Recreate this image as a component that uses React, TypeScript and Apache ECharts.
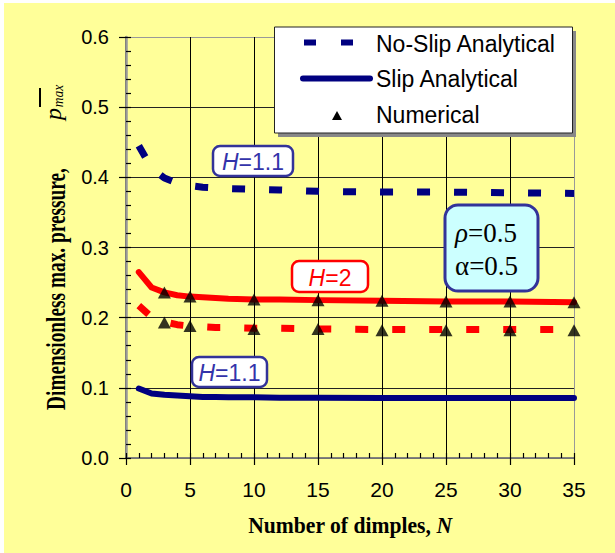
import React, { useEffect, useRef } from "react";
import * as echarts from "echarts";

// ---- data ----
const N_CURVE = [1, 2, 3, 4, 5, 6, 7, 8, 10, 12, 15, 20, 25, 30, 35];
const noSlipH11 = [0.445, 0.413, 0.399, 0.392, 0.388, 0.386, 0.385, 0.384, 0.383, 0.382, 0.38, 0.379, 0.379, 0.378, 0.377];
const slipH11 = [0.099, 0.092, 0.09, 0.089, 0.088, 0.087, 0.087, 0.0865, 0.0865, 0.086, 0.086, 0.0855, 0.0855, 0.0855, 0.0855];
const noSlipH2 = [0.217, 0.201, 0.194, 0.19, 0.188, 0.187, 0.186, 0.186, 0.185, 0.185, 0.184, 0.183, 0.183, 0.183, 0.183];
const slipH2 = [0.265, 0.243, 0.236, 0.232, 0.23, 0.229, 0.228, 0.227, 0.226, 0.226, 0.225, 0.224, 0.223, 0.223, 0.222];

const N_NUM = [3, 5, 10, 15, 20, 25, 30, 35];
const numSlipH2 = [0.236, 0.23, 0.226, 0.225, 0.224, 0.223, 0.223, 0.222];
const numNoSlipH2 = [0.193, 0.188, 0.184, 0.184, 0.182, 0.182, 0.182, 0.182];

const X_TICKS = [0, 5, 10, 15, 20, 25, 30, 35];
const Y_TICKS = [0, 0.1, 0.2, 0.3, 0.4, 0.5, 0.6];

const LEGEND_NAMES = ["No-Slip Analytical", "Slip Analytical", "Numerical"];

const pairs = (xs: number[], ys: number[]) => xs.map((x, i) => [x, ys[i]]);

const BLUE = "#000080";
const RED = "#FF0000";
const BOXBLUE = "#333399";
const SANS = "'Liberation Sans', Arial, sans-serif";
const SERIF = "'Liberation Serif', 'Times New Roman', serif";

const withZ = (els: any[], z: number) => els.map((e) => ({ ...e, z }));

export default function App() {
  const ref = useRef<HTMLDivElement>(null);
  useEffect(() => {
    if (!ref.current) return;
    const chart = echarts.init(ref.current, undefined, { renderer: "svg" });

    const xMin = X_TICKS[0];
    const xMax = X_TICKS[X_TICKS.length - 1];
    const yMin = Y_TICKS[0];
    const yMax = Y_TICKS[Y_TICKS.length - 1];

    const dashed = { type: [13, 24] as any, width: 7, cap: "butt" as const };
    const solid = { type: "solid" as const, width: 6, cap: "round" as const, join: "round" as const };

    const hLabel = (x: number, y: number, w: number, h: number, color: string, val: string) =>
      withZ(
        [
          { type: "rect", shape: { x, y, width: w, height: h, r: 7 }, style: { fill: "#fff", stroke: color, lineWidth: 2.5 } },
          {
            type: "text",
            x: x + w / 2,
            y: y + h / 2 + 1,
            style: {
              text: "{i|H}{n|=" + val + "}",
              align: "center",
              verticalAlign: "middle",
              rich: {
                i: { fontStyle: "italic", fontSize: 23, fontFamily: SANS, fill: color === RED ? RED : "#3333AA" },
                n: { fontSize: 23, fontFamily: SANS, fill: color === RED ? RED : "#3333AA" },
              },
            },
          },
        ],
        100
      );

    const legendEls = withZ(
      [
        { type: "rect", shape: { x: 278, y: 31, width: 298, height: 106 }, style: { fill: "#888" } },
        { type: "rect", shape: { x: 274.5, y: 27, width: 298, height: 106 }, style: { fill: "#fff", stroke: "#222", lineWidth: 1 } },
        { type: "line", shape: { x1: 304, y1: 42.5, x2: 353, y2: 42.5 }, style: { stroke: BLUE, lineWidth: 6, lineDash: [12, 25] } },
        { type: "line", shape: { x1: 303, y1: 78.5, x2: 370, y2: 78.5 }, style: { stroke: BLUE, lineWidth: 6, lineCap: "round" } },
        { type: "polygon", shape: { points: [[337, 111], [332, 120], [342, 120]] }, style: { fill: "#000" } },
        { type: "text", x: 376, y: 44, style: { text: LEGEND_NAMES[0], font: "23px " + SANS, fill: "#000", verticalAlign: "middle" } },
        { type: "text", x: 376, y: 79, style: { text: LEGEND_NAMES[1], font: "23px " + SANS, fill: "#000", verticalAlign: "middle" } },
        { type: "text", x: 376, y: 114.5, style: { text: LEGEND_NAMES[2], font: "23px " + SANS, fill: "#000", verticalAlign: "middle" } },
      ],
      110
    );

    const paramEls = withZ(
      [
        { type: "rect", shape: { x: 445, y: 205, width: 93, height: 86, r: 13 }, style: { fill: "#CCFFFF", stroke: BOXBLUE, lineWidth: 3 } },
        {
          type: "text",
          x: 455,
          y: 233,
          style: {
            text: "{i|ρ}{n|=0.5}",
            verticalAlign: "middle",
            rich: {
              i: { fontStyle: "italic", fontSize: 27, fontFamily: SERIF, fill: "#000" },
              n: { fontSize: 27, fontFamily: SERIF, fill: "#000" },
            },
          },
        },
        {
          type: "text",
          x: 455,
          y: 266,
          style: { text: "α=0.5", font: "27px " + SERIF, fill: "#000", verticalAlign: "middle" },
        },
      ],
      100
    );

    const option: any = {
      animation: false,
      backgroundColor: "#FFFF99",
      grid: { left: 126, right: 41, top: 37, bottom: 95, containLabel: false },
      xAxis: [
        {
          type: "value",
          min: xMin,
          max: xMax,
          interval: 5,
          axisLine: { show: true, lineStyle: { color: "#000", width: 1.5 } },
          axisTick: { show: true, inside: false, length: 7, lineStyle: { color: "#000", width: 1.2 } },
          axisLabel: { fontSize: 21, fontFamily: SANS, color: "#000", margin: 21 },
          splitLine: {
            show: true,
            lineStyle: { color: ["#000", "#000", "#000", "#000", "#000", "#000", "#000", "#999"], width: 1 },
          },
        },
        {
          type: "value",
          min: xMin,
          max: xMax,
          interval: 1,
          position: "bottom",
          axisLine: { show: false },
          axisTick: { show: true, inside: true, length: 5, lineStyle: { color: "#000", width: 1.2 } },
          axisLabel: { show: false },
          splitLine: { show: false },
        },
        {
          type: "value",
          min: xMin,
          max: xMax,
          position: "top",
          axisLine: { show: true, lineStyle: { color: "#999", width: 1.5 } },
          axisTick: { show: false },
          axisLabel: { show: false },
          splitLine: { show: false },
        },
      ],
      yAxis: [
        {
          type: "value",
          min: yMin,
          max: yMax,
          interval: 0.1,
          axisLine: { show: true, lineStyle: { color: "#000", width: 1.5 } },
          axisTick: { show: true, inside: false, length: 7, lineStyle: { color: "#000", width: 1.2 } },
          axisLabel: {
            fontSize: 20,
            fontFamily: SANS,
            color: "#000",
            margin: 17,
            formatter: (v: number) => v.toFixed(1),
          },
          splitLine: {
            show: true,
            lineStyle: { color: ["#000", "#222", "#222", "#222", "#222", "#222", "#999"], width: 1 },
          },
        },
        {
          type: "value",
          min: yMin,
          max: yMax,
          interval: 0.02,
          position: "left",
          axisLine: { show: false },
          axisTick: { show: true, inside: true, length: 5, lineStyle: { color: "#000", width: 1.2 } },
          axisLabel: { show: false },
          splitLine: { show: false },
        },
        {
          type: "value",
          min: yMin,
          max: yMax,
          position: "right",
          axisLine: { show: true, lineStyle: { color: "#999", width: 2.5 } },
          axisTick: { show: false },
          axisLabel: { show: false },
          splitLine: { show: false },
        },
      ],
      series: [
        {
          name: "No-Slip Analytical (H=1.1)",
          type: "line",
          data: pairs(N_CURVE, noSlipH11),
          symbol: "none",
          lineStyle: { color: BLUE, ...dashed },
          z: 3,
        },
        {
          name: "Slip Analytical (H=1.1)",
          type: "line",
          data: pairs(N_CURVE, slipH11),
          symbol: "none",
          lineStyle: { color: BLUE, ...solid },
          z: 3,
        },
        {
          name: "No-Slip Analytical (H=2)",
          type: "line",
          data: pairs(N_CURVE, noSlipH2),
          symbol: "none",
          lineStyle: { color: RED, ...dashed },
          z: 3,
        },
        {
          name: "Slip Analytical (H=2)",
          type: "line",
          data: pairs(N_CURVE, slipH2),
          symbol: "none",
          lineStyle: { color: RED, ...solid },
          z: 3,
        },
        {
          name: "Numerical (slip, H=2)",
          type: "scatter",
          data: pairs(N_NUM, numSlipH2),
          symbol: "triangle",
          symbolSize: [13, 12],
          itemStyle: { color: "#000" },
          z: 5,
        },
        {
          name: "Numerical (no-slip, H=2)",
          type: "scatter",
          data: pairs(N_NUM, numNoSlipH2),
          symbol: "triangle",
          symbolSize: [13, 12],
          itemStyle: { color: "#000" },
          z: 5,
        },
      ],
      graphic: [
        // white page margins at left/top
        { type: "rect", shape: { x: 0, y: 0, width: 4, height: 553 }, style: { fill: "#fff" }, z: 100 },
        { type: "rect", shape: { x: 0, y: 0, width: 615, height: 3 }, style: { fill: "#fff" }, z: 100 },
        ...legendEls,
        ...hLabel(213, 146, 80, 30, BOXBLUE, "1.1"),
        ...hLabel(292, 261, 76, 31, RED, "2"),
        ...hLabel(192, 357, 75, 30, BOXBLUE, "1.1"),
        ...paramEls,
        // axis titles
        {
          type: "text",
          z: 100,
          x: 350,
          y: 525,
          scaleX: 0.9,
          style: {
            text: "{b|Number of dimples, }{i|N}",
            align: "center",
            verticalAlign: "middle",
            rich: {
              b: { fontWeight: "bold", fontSize: 24, fontFamily: SERIF, fill: "#000" },
              i: { fontWeight: "bold", fontStyle: "italic", fontSize: 24, fontFamily: SERIF, fill: "#000" },
            },
          },
        },
        {
          type: "text",
          z: 100,
          x: 56,
          y: 289,
          rotation: Math.PI / 2,
          scaleX: 0.69,
          style: { text: "Dimensionless max. pressure,", font: "bold 28px " + SERIF, fill: "#000", align: "center", verticalAlign: "middle" },
        },
        {
          type: "text",
          z: 100,
          x: 52.5,
          y: 114,
          rotation: Math.PI / 2,
          style: { text: "p", font: "italic 24px " + SERIF, fill: "#000", align: "center", verticalAlign: "middle" },
        },
        {
          type: "text",
          z: 100,
          x: 58,
          y: 96,
          rotation: Math.PI / 2,
          scaleX: 0.9,
          style: { text: "max", font: "italic 15px " + SERIF, fill: "#000", align: "center", verticalAlign: "middle" },
        },
        { type: "line", z: 100, shape: { x1: 40, y1: 88, x2: 40, y2: 107 }, style: { stroke: "#000", lineWidth: 2 } },
      ],
    };

    chart.setOption(option);
    return () => chart.dispose();
  }, []);

  return (
    <div
      ref={ref}
      style={{ position: "fixed", left: 0, top: 0, width: 615, height: 553, background: "#fff" }}
    />
  );
}
